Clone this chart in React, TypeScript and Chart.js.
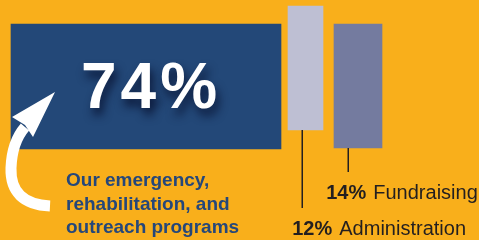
import React, { useEffect, useRef } from "react";
import { Chart, registerables } from "chart.js";

Chart.register(...registerables);

const categories = ["Programs", "Administration", "Fundraising"];
const shares = [74, 12, 14];
const programLines = ["Our emergency,", "rehabilitation, and", "outreach programs"];
const barCenters = [146, 305.5, 358];
const barRanges: [number, number][] = [
  [91, 216],
  [110, 234],
  [92, 216],
];

const BG = "#F9AF1B";
const COLORS = ["#234878", "#BEBFD3", "#747B9F"];
const THICK = [270, 35, 48];
const DARK = "#231F20";
const NAVY_TEXT = "#25477A";

const decorPlugin = {
  id: "decor",
  beforeDraw(chart: any) {
    const ctx = chart.ctx;
    ctx.save();
    ctx.fillStyle = BG;
    ctx.fillRect(0, 0, chart.width, chart.height);
    ctx.restore();
  },
  afterDatasetsDraw(chart: any) {
    const ctx = chart.ctx;
    const b1 = chart.getDatasetMeta(0).data[0];
    const b2 = chart.getDatasetMeta(1).data[0];
    const b3 = chart.getDatasetMeta(2).data[0];
    ctx.save();

    // big percentage in programs box
    ctx.font = "bold 64px 'Liberation Sans'";
    (ctx as any).letterSpacing = "4px";
    ctx.textAlign = "center";
    ctx.textBaseline = "alphabetic";
    ctx.shadowColor = "rgba(8,18,48,0.85)";
    ctx.shadowBlur = 10;
    ctx.shadowOffsetX = 3;
    ctx.shadowOffsetY = 7;
    ctx.fillStyle = "#FFFFFF";
    ctx.fillText(shares[0] + "%", b1.x + 5, b1.base - 41);
    ctx.shadowColor = "transparent";
    ctx.shadowBlur = 0;
    ctx.shadowOffsetX = 0;
    ctx.shadowOffsetY = 0;
    (ctx as any).letterSpacing = "0px";

    // leader lines
    ctx.strokeStyle = DARK;
    ctx.lineWidth = 1.5;
    ctx.beginPath();
    const x2 = Math.round(b2.x - 3.5) + 0.25;
    ctx.moveTo(x2, b2.base);
    ctx.lineTo(x2, b2.base + 78);
    const x3 = Math.round(b3.x - 10) + 0.25;
    ctx.moveTo(x3, b3.base);
    ctx.lineTo(x3, b3.base + 24);
    ctx.stroke();

    // labels
    const drawLabel = (pct: number, name: string, x: number, y: number) => {
      ctx.textAlign = "left";
      ctx.textBaseline = "alphabetic";
      ctx.fillStyle = DARK;
      ctx.font = "bold 20px 'Liberation Sans'";
      const t = pct + "%";
      ctx.fillText(t, x, y);
      const w = ctx.measureText(t).width;
      ctx.font = "20px 'Liberation Sans'";
      ctx.fillText(name, x + w + 7, y);
    };
    drawLabel(shares[2], categories[2], x3 - 22, b3.base + 51);
    drawLabel(shares[1], categories[1], x2 - 10, b2.base + 105);

    // programs description
    const L = b1.x - b1.width / 2;
    const B = b1.base;
    ctx.fillStyle = NAVY_TEXT;
    ctx.font = "bold 19px 'Liberation Sans'";
    ctx.textAlign = "left";
    programLines.forEach((line, i) => {
      ctx.fillText(line, L + 55, B + 37 + i * 23.5);
    });

    // curved arrow
    ctx.strokeStyle = "#FFFFFF";
    ctx.fillStyle = "#FFFFFF";
    ctx.lineWidth = 11;
    ctx.lineCap = "butt";
    ctx.beginPath();
    ctx.moveTo(L + 39, B + 57);
    ctx.quadraticCurveTo(L - 1, B + 55, L, B + 19);
    ctx.quadraticCurveTo(L + 1, B - 7, L + 14, B - 22);
    ctx.stroke();
    ctx.beginPath();
    ctx.moveTo(L + 44, B - 57);
    ctx.lineTo(L + 1, B - 32);
    ctx.lineTo(L + 14, B - 24);
    ctx.lineTo(L + 22, B - 12);
    ctx.closePath();
    ctx.fill();

    ctx.restore();
  },
};

export default function App() {
  const ref = useRef<HTMLCanvasElement | null>(null);
  useEffect(() => {
    if (!ref.current) return;
    const chart = new Chart(ref.current, {
      type: "bar",
      data: {
        datasets: categories.map((c, i) => ({
          label: c,
          data: [{ x: barCenters[i], y: barRanges[i] }] as any,
          backgroundColor: COLORS[i],
          borderWidth: 0,
          barThickness: THICK[i],
          grouped: false,
        })),
      },
      options: {
        animation: false,
        responsive: false,
        maintainAspectRatio: false,
        layout: { padding: 0 },
        plugins: { legend: { display: false }, tooltip: { enabled: false } },
        scales: {
          x: { type: "linear", min: 0, max: 479, offset: false, display: false },
          y: { type: "linear", min: 0, max: 240, display: false },
        },
      },
      plugins: [decorPlugin],
    });
    return () => chart.destroy();
  }, []);
  return (
    <div style={{ position: "absolute", left: 0, top: 0, width: 479, height: 240 }}>
      <canvas ref={ref} width={479} height={240} />
    </div>
  );
}
